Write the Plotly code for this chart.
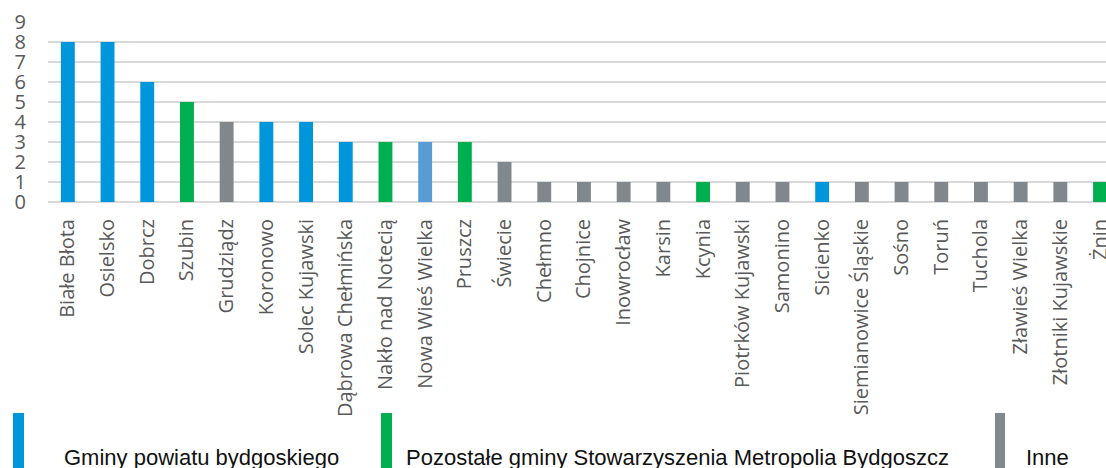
"""
Bar chart: municipalities by count, coloured by group.
"""

import plotly.graph_objects as go

categories = [
    "Białe Błota", "Osielsko", "Dobrcz", "Szubin", "Grudziądz", "Koronowo",
    "Solec Kujawski", "Dąbrowa Chełmińska", "Nakło nad Notecią",
    "Nowa Wieś Wielka", "Pruszcz", "Świecie", "Chełmno", "Chojnice",
    "Inowrocław", "Karsin", "Kcynia", "Piotrków Kujawski", "Samonino",
    "Sicienko", "Siemianowice Śląskie", "Sośno", "Toruń", "Tuchola",
    "Zławieś Wielka", "Złotniki Kujawskie", "Żnin",
]
values = [8, 8, 6, 5, 4, 4, 4, 3, 3, 3, 3, 2,
          1, 1, 1, 1, 1, 1, 1, 1, 1, 1, 1, 1, 1, 1, 1]
groups = [
    "powiat", "powiat", "powiat", "metro", "inne", "powiat",
    "powiat", "powiat", "metro", "powiat2", "metro", "inne",
    "inne", "inne", "inne", "inne", "metro", "inne", "inne",
    "powiat", "inne", "inne", "inne", "inne", "inne", "inne", "metro",
]
legend_labels = [
    "Gminy powiatu bydgoskiego",
    "Pozostałe gminy Stowarzyszenia Metropolia Bydgoszcz",
    "Inne",
]

COLORS = {
    "powiat": "#0096DB",
    "powiat2": "#5B9BD5",
    "metro": "#00B050",
    "inne": "#80878D",
}

W, H = 1106, 468
L, R, T, B = 48, 0, 22, 266


def px_x(x):
    return (x - L) / (W - L - R)


def px_y(y):
    return (H - B - y) / (H - B - T)


fig = go.Figure(go.Bar(
    x=categories,
    y=values,
    marker=dict(color=[COLORS[g] for g in groups], line=dict(width=0)),
    hovertemplate='%{x}: %{y}<extra></extra>',
))

fig.update_layout(
    width=W,
    height=H,
    margin=dict(l=L, r=R, t=T, b=B, autoexpand=False),
    paper_bgcolor='white',
    plot_bgcolor='white',
    bargap=0.65,
    showlegend=False,
    font=dict(family="Open Sans, Noto Sans, sans-serif", color="#595959"),
)

fig.update_xaxes(
    type='category',
    range=[-0.5, 26.15],
    tickangle=-90,
    tickfont=dict(size=20, color="#595959"),
    showgrid=False,
    ticks='',
    ticklabelstandoff=12,
    ticklabeloverflow='allow',
    showline=False,
    fixedrange=True,
)

fig.update_yaxes(
    range=[0, 9],
    dtick=1,
    showgrid=True,
    gridcolor='#D9D9D9',
    gridwidth=1.5,
    zeroline=True,
    zerolinecolor='#D9D9D9',
    zerolinewidth=1.5,
    tickfont=dict(size=20, color="#595959"),
    ticks='',
    ticklabelstandoff=21,
    fixedrange=True,
)

# custom legend: tall coloured bars with labels below the chart
legend_items = [
    (13, 24, 62, COLORS["powiat"], legend_labels[0]),
    (381, 392, 404, COLORS["metro"], legend_labels[1]),
    (995, 1005, 1024, COLORS["inne"], legend_labels[2]),
]
for x0, x1, tx, color, label in legend_items:
    fig.add_shape(
        type='rect', xref='paper', yref='paper',
        x0=px_x(x0), x1=px_x(x1), y0=px_y(413), y1=px_y(468),
        fillcolor=color, line=dict(width=0), layer='above',
    )
    fig.add_annotation(
        xref='paper', yref='paper',
        x=px_x(tx), y=px_y(457),
        xanchor='left', yanchor='middle',
        text=label, showarrow=False,
        font=dict(family="Liberation Sans Narrow, Arial Narrow, Liberation Sans, sans-serif",
                  size=22, color="#111111"),
    )

fig.write_html(
    "out.html",
    config={'displayModeBar': False},
    post_script="document.body.style.margin='0';document.body.style.overflow='hidden';",
)
